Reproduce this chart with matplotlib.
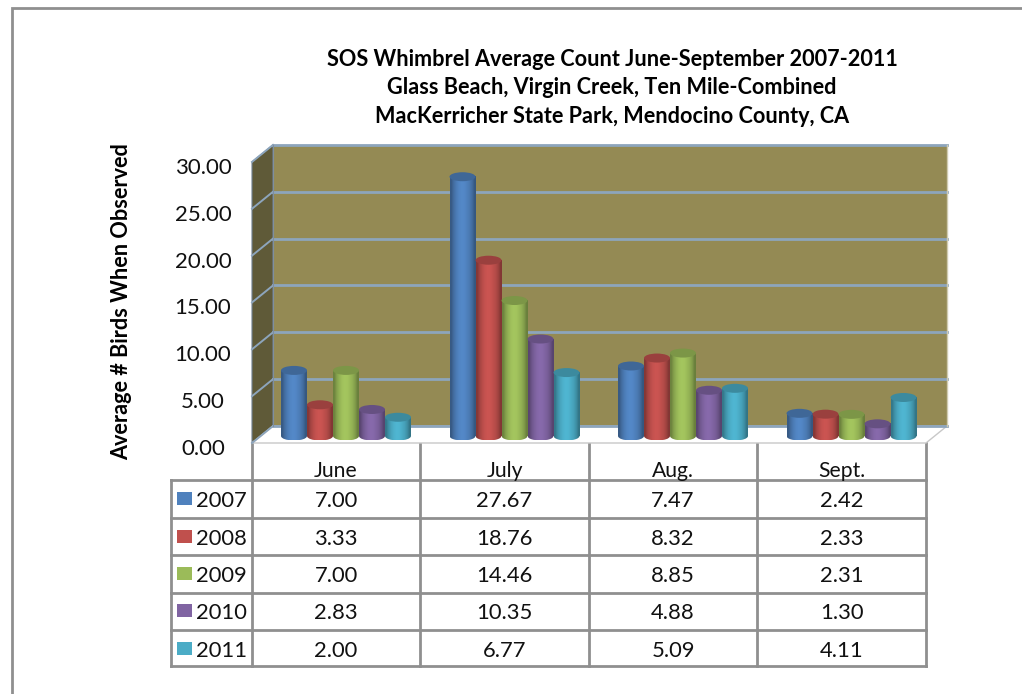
"""
SOS Whimbrel average counts: Excel style 3D cylinder chart with a data table.
"""
import numpy as np
import matplotlib
matplotlib.use("Agg")
import matplotlib.pyplot as plt
from matplotlib.patches import Ellipse, Polygon, Rectangle

plt.rcParams["font.family"] = ["Lato", "DejaVu Sans"]

months = ["June", "July", "Aug.", "Sept."]
years = ["2007", "2008", "2009", "2010", "2011"]
v2007 = [7.00, 27.67, 7.47, 2.42]
v2008 = [3.33, 18.76, 8.32, 2.33]
v2009 = [7.00, 14.46, 8.85, 2.31]
v2010 = [2.83, 10.35, 4.88, 1.30]
v2011 = [2.00, 6.77, 5.09, 4.11]
series = [v2007, v2008, v2009, v2010, v2011]
colors = ["#4F81BD", "#C0504D", "#9BBB59", "#8064A2", "#4BACC6"]
y_ticks = [0, 5, 10, 15, 20, 25, 30]

W, H = 1022, 694
PX_X = 168.5  # pixels per month
PX_Y = 9.37  # pixels per count
X0, Y0 = 252, 436  # pixel position of month 0, count 0
BAR_W = 26 / PX_X
BAR_START = 29 / PX_X
CAP_H = 9 / PX_Y
DX = 21 / PX_X  # depth of the box
WALL_UP = 10 / PX_Y  # back wall zero above the bar base
FRONT_DOWN = 7 / PX_Y  # front floor edge below the bar base
GRID = "#8DA5BC"
LINE = "#8F8F8F"

fig = plt.figure(figsize=(W / 100, H / 100), dpi=100)

# page level axes in pixels: frame, title, table
bg = fig.add_axes([0, 0, 1, 1])
bg.set_xlim(0, W)
bg.set_ylim(H, 0)
bg.axis("off")
bg.plot([12, 12, W], [H, 8, 8], color=LINE, lw=2, solid_joinstyle="miter")

titles = [
    "SOS Whimbrel Average Count June-September 2007-2011",
    "Glass Beach, Virgin Creek, Ten Mile-Combined",
    "MacKerricher State Park, Mendocino County, CA",
]
for line, ty in zip(titles, [59, 87, 116]):
    bg.text(612, ty, line, ha="center", va="center", fontsize=15.6, fontweight="bold", color="black")
bg.text(122, 302, "Average # Birds When Observed", rotation=90, ha="center", va="center",
        fontsize=15.6, fontweight="bold", color="black")

col_x = [252, 420, 589, 757, 926]
row_y = [480, 518, 555, 593, 630, 666]
row_mid = [501, 539, 576, 613, 651]
for cx in col_x:
    bg.plot([cx, cx], [443, row_y[-1]], color=LINE, lw=2)
bg.plot([171, 171], [row_y[0], row_y[-1]], color=LINE, lw=2)
for ry in row_y:
    bg.plot([171, col_x[-1]], [ry, ry], color=LINE, lw=2)
for i, month in enumerate(months):
    bg.text((col_x[i] + col_x[i + 1]) / 2, 471, month, ha="center", va="center", fontsize=15.2, color="#111111")
for r, year in enumerate(years):
    bg.add_patch(Rectangle((177, row_mid[r] - 9), 15, 13, facecolor=colors[r], edgecolor="none"))
    bg.text(196, row_mid[r], year, ha="left", va="center", fontsize=15.8, color="#111111")
    for i in range(len(months)):
        bg.text((col_x[i] + col_x[i + 1]) / 2, row_mid[r], f"{series[r][i]:.2f}", ha="center", va="center",
                fontsize=15.8, color="#111111")

# plot axes in data units
left, right, top, bottom = 240, 960, 130, 450
ax = fig.add_axes([left / W, 1 - bottom / H, (right - left) / W, (bottom - top) / H])
ax.set_xlim((left - X0) / PX_X, (right - X0) / PX_X)
ax.set_ylim((Y0 - bottom) / PX_Y, (Y0 - top) / PX_Y)
ax.axis("off")
xlim, ylim = ax.get_xlim(), ax.get_ylim()

n_months = len(months)
y_top = y_ticks[-1]
ax.add_patch(Polygon([(DX, WALL_UP), (n_months + DX, WALL_UP), (n_months + DX, y_top + WALL_UP), (DX, y_top + WALL_UP)],
                     facecolor="#948A54", edgecolor="none", zorder=1))
ax.add_patch(Polygon([(0, -FRONT_DOWN), (DX, WALL_UP), (DX, y_top + WALL_UP), (0, y_top - FRONT_DOWN)],
                     facecolor="#5F5A38", edgecolor="#6F7F90", lw=0.8, zorder=1))
ax.add_patch(Polygon([(0, -FRONT_DOWN), (n_months, -FRONT_DOWN), (n_months + DX, WALL_UP), (DX, WALL_UP)],
                     facecolor="white", edgecolor="#C8C8C8", lw=1, zorder=1))
for tick in y_ticks:
    ax.plot([DX, n_months + DX], [tick + WALL_UP] * 2, color=GRID, lw=2, zorder=2)
    ax.plot([0, DX], [tick - FRONT_DOWN, tick + WALL_UP], color=GRID, lw=1.4, zorder=2)
    ax.annotate(f"{tick:.2f}", xy=(0, tick), xytext=(-49, -13), textcoords="offset pixels",
                ha="center", va="center", fontsize=16, color="#111111", annotation_clip=False)
ax.plot([DX, DX], [WALL_UP, y_top + WALL_UP], color="#7F8F9F", lw=0.8, zorder=2)
ax.plot([n_months + DX] * 2, [WALL_UP, y_top + WALL_UP], color="#D0CBB0", lw=1, zorder=2)

# horizontal shading across a cylinder
shade = np.array([0.70, 0.86, 0.96, 1.03, 1.06, 1.05, 1.0, 0.94, 0.84, 0.68])


def cylinder_image(color, extent, zorder):
    rgb = np.array(matplotlib.colors.to_rgb(color))
    img = np.clip(shade[None, :, None] * rgb[None, None, :], 0, 1)
    return ax.imshow(img, extent=extent, aspect="auto", interpolation="bilinear", zorder=zorder)


order = 3
for s, vals in enumerate(series):
    for m, val in enumerate(vals):
        x0 = m + BAR_START + s * BAR_W
        xc = x0 + BAR_W / 2
        foot = Ellipse((xc, 0), BAR_W, CAP_H, transform=ax.transData)
        cylinder_image(colors[s], (x0, x0 + BAR_W, -CAP_H / 2, 0), order).set_clip_path(foot)
        cylinder_image(colors[s], (x0, x0 + BAR_W, 0, val), order)
        dark = np.array(matplotlib.colors.to_rgb(colors[s])) * 0.8
        ax.add_patch(Ellipse((xc, val), BAR_W, CAP_H, facecolor=dark, edgecolor="none", zorder=order))
        order += 0.01

ax.set_xlim(xlim)
ax.set_ylim(ylim)

fig.savefig("out.png", dpi=100)
